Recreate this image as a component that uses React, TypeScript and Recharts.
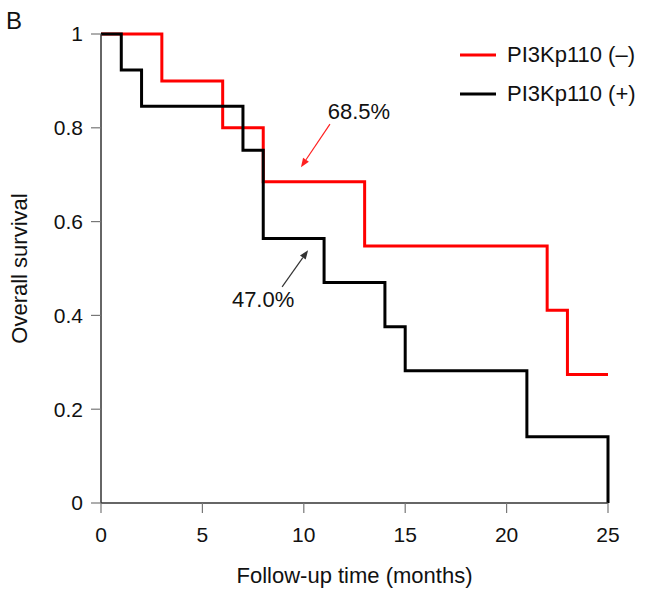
import React from 'react';
import { LineChart, Line, XAxis, YAxis, Legend, ReferenceLine } from 'recharts';

// Kaplan-Meier steps
const negTime = [0, 3, 6, 8, 13, 22, 23, 25];
const negSurv = [1, 0.9, 0.8, 0.685, 0.548, 0.411, 0.274, 0.274];
const posTime = [0, 1, 2, 7, 8, 11, 14, 15, 21, 25, 25];
const posSurv = [1, 0.923, 0.846, 0.752, 0.564, 0.47, 0.376, 0.282, 0.141, 0.141, 0];

const xTicks = [0, 5, 10, 15, 20, 25];
const yTicks = [0, 0.2, 0.4, 0.6, 0.8, 1];

const seriesNames = ['PI3Kp110 (\u2013)', 'PI3Kp110 (+)'];
const seriesColors = ['#ff0000', '#000000'];

// annotation arrows: tail -> tip, in data units
const annotations = [
  { text: '68.5%', color: '#ff2020', from: { x: 11.29, y: 0.808 }, to: { x: 9.86, y: 0.716 }, dx: 29, dy: -13 },
  { text: '47.0%', color: '#333333', from: { x: 8.93, y: 0.461 }, to: { x: 10.21, y: 0.539 }, dx: -19, dy: 13 },
];

const FONT = '"Liberation Sans", Arial, Helvetica, sans-serif';

const negData = negTime.map((t, i) => ({ t, s: negSurv[i] }));
const posData = posTime.map((t, i) => ({ t, s: posSurv[i] }));

const renderArrow = (p: any, ann: any) => {
  const { x1, y1, x2, y2 } = p;
  const ang = Math.atan2(y2 - y1, x2 - x1);
  const len = 9;
  const hw = 3.5;
  const bx = x2 - len * Math.cos(ang);
  const by = y2 - len * Math.sin(ang);
  const px = -Math.sin(ang) * hw;
  const py = Math.cos(ang) * hw;
  return (
    <g>
      <line x1={x1} y1={y1} x2={bx} y2={by} stroke={ann.color} strokeWidth={1.2} />
      <polygon points={`${x2},${y2} ${bx + px},${by + py} ${bx - px},${by - py}`} fill={ann.color} />
      <text x={x1 + ann.dx} y={y1 + ann.dy} textAnchor="middle" dominantBaseline="central" fontSize={22} fill="#111">
        {ann.text}
      </text>
    </g>
  );
};

const YTitle = (props: any) => {
  const vb = props.viewBox || { x: 0, y: 0, width: 0, height: 0 };
  const cx = 19;
  const cy = vb.y + vb.height / 2;
  return (
    <text x={cx} y={cy} transform={`rotate(-90, ${cx}, ${cy})`} textAnchor="middle" dominantBaseline="central" fontSize={22} fill="#111">
      Overall survival
    </text>
  );
};

// legend drawn from the series arrays so the order stays (–) then (+)
const LegendBox = () => (
  <div>
    {seriesNames.map((name, i) => (
      <div key={i} style={{ display: 'flex', alignItems: 'center', height: 39 }}>
        <svg width={36} height={4} style={{ display: 'block' }}>
          <line x1={0} y1={2} x2={36} y2={2} stroke={seriesColors[i]} strokeWidth={3} />
        </svg>
        <span style={{ marginLeft: 11, fontSize: 22, color: '#111', whiteSpace: 'nowrap' }}>{name}</span>
      </div>
    ))}
  </div>
);

export default function App() {
  return (
    <div style={{ position: 'absolute', left: 0, top: 0, width: 646, height: 592, background: '#fff', fontFamily: FONT }}>
      <div style={{ position: 'absolute', left: 6, top: 9, fontSize: 24, lineHeight: '24px', color: '#111' }}>B</div>
      <LineChart width={646} height={592} margin={{ top: 34, right: 38, left: 0, bottom: 9 }}>
        <XAxis
          dataKey="t"
          type="number"
          domain={[0, 25]}
          ticks={xTicks}
          height={80}
          axisLine={{ stroke: '#333', strokeWidth: 1.5 }}
          tickLine={{ stroke: '#777', strokeWidth: 1.2 }}
          tickSize={10}
          tickMargin={14}
          tick={{ fontSize: 21, fill: '#111' }}
          label={{ value: 'Follow-up time (months)', position: 'insideBottom', offset: 0, fontSize: 22, fill: '#111' }}
        />
        <YAxis
          type="number"
          domain={[0, 1]}
          ticks={yTicks}
          width={101}
          axisLine={{ stroke: '#333', strokeWidth: 1.5 }}
          tickLine={{ stroke: '#777', strokeWidth: 1.2 }}
          tickSize={10}
          tickMargin={8}
          tick={{ fontSize: 21, fill: '#111' }}
          label={<YTitle />}
        />
        <Line
          data={negData}
          dataKey="s"
          type="stepAfter"
          name={seriesNames[0]}
          stroke={seriesColors[0]}
          strokeWidth={3}
          dot={false}
          activeDot={false}
          isAnimationActive={false}
        />
        <Line
          data={posData}
          dataKey="s"
          type="stepAfter"
          name={seriesNames[1]}
          stroke={seriesColors[1]}
          strokeWidth={3}
          dot={false}
          activeDot={false}
          isAnimationActive={false}
        />
        {annotations.map((ann, i) => (
          <ReferenceLine
            key={i}
            segment={[ann.from, ann.to]}
            ifOverflow="visible"
            shape={(p: any) => renderArrow(p, ann)}
          />
        ))}
        <Legend
          layout="horizontal"
          verticalAlign="middle"
          align="center"
          content={<LegendBox />}
          wrapperStyle={{ left: 460, top: 35, width: 186 }}
        />
      </LineChart>
    </div>
  );
}
